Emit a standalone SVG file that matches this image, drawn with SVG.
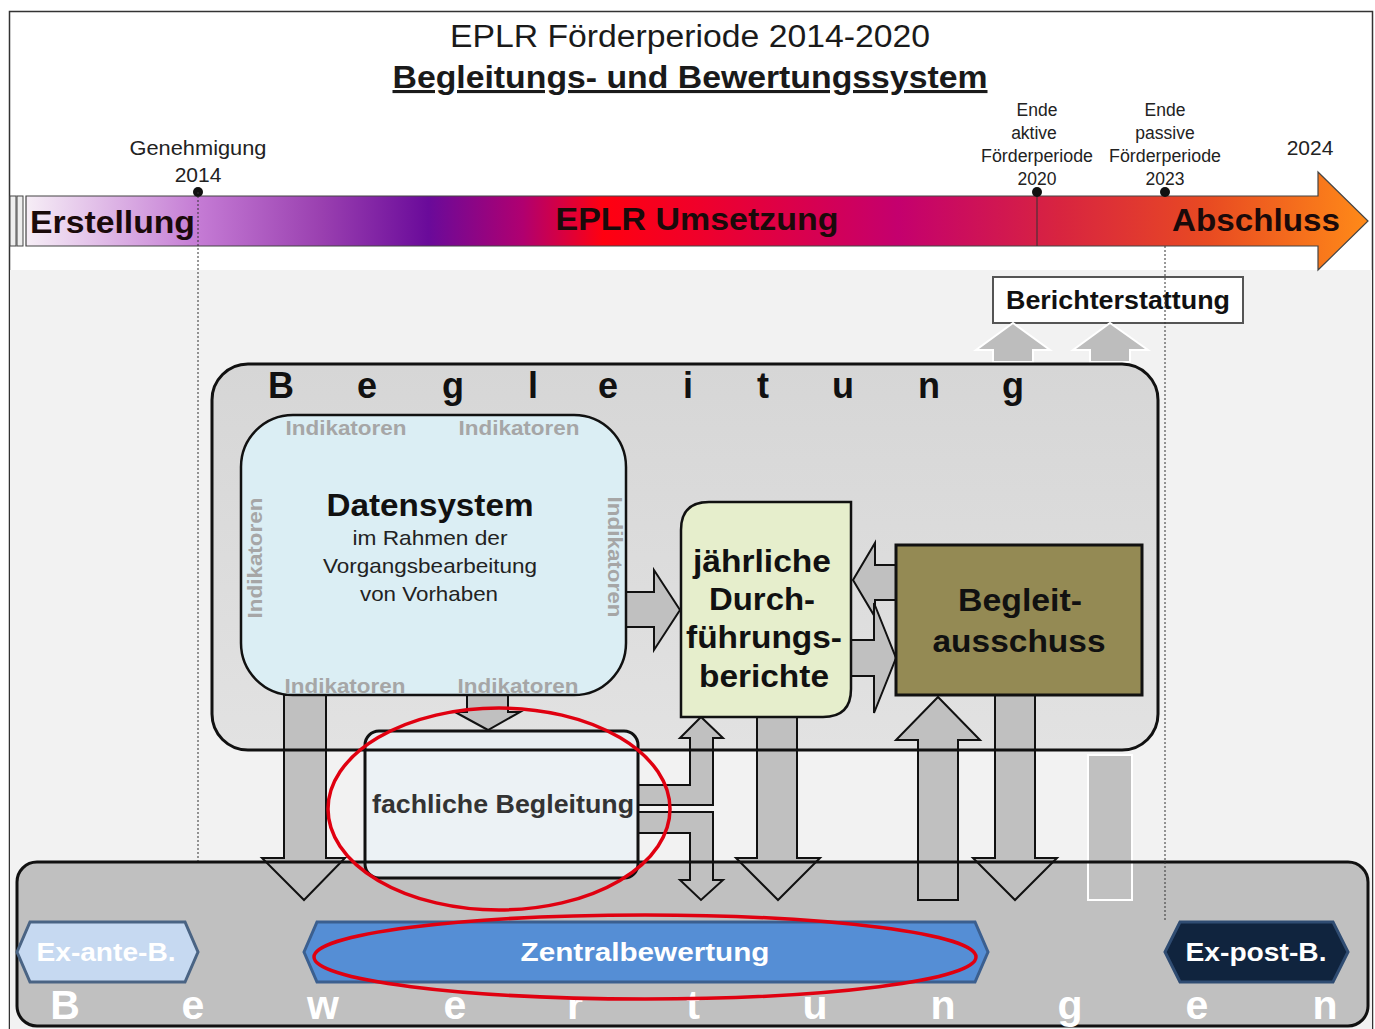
<svg xmlns="http://www.w3.org/2000/svg" width="1375" height="1029" viewBox="0 0 1375 1029">
<defs>
<linearGradient id="tl" gradientUnits="userSpaceOnUse" x1="26" y1="0" x2="1368" y2="0">
<stop offset="0" stop-color="#f6eef6"/>
<stop offset="0.13" stop-color="#c47ad4"/>
<stop offset="0.22" stop-color="#9a40b0"/>
<stop offset="0.30" stop-color="#6a0a9a"/>
<stop offset="0.37" stop-color="#b00070"/>
<stop offset="0.43" stop-color="#ff0010"/>
<stop offset="0.50" stop-color="#f0002a"/>
<stop offset="0.65" stop-color="#c4006e"/>
<stop offset="0.77" stop-color="#d82440"/>
<stop offset="0.88" stop-color="#e84a22"/>
<stop offset="1" stop-color="#ff8a18"/>
</linearGradient>
<linearGradient id="bg" x1="0" y1="0" x2="0" y2="1">
<stop offset="0" stop-color="#d6d6d6"/>
<stop offset="1" stop-color="#e2e2e2"/>
</linearGradient>
</defs>
<style>
text{font-family:"Liberation Sans",Arial,sans-serif}
.ttl{font-size:31px;fill:#1a1a1a}
.lbl{font-size:21px;fill:#222;text-anchor:middle}
.lbs{font-size:17.5px;fill:#222;text-anchor:middle}
.band{font-size:31px;font-weight:bold;fill:#1a0a0a}
.big{font-size:36px;font-weight:bold;fill:#111;text-anchor:middle}
.bw{font-size:41px;font-weight:bold;fill:#fff;text-anchor:middle}
.ind{font-size:21px;font-weight:bold;fill:#a6a6a6;text-anchor:middle}
.node{font-size:31px;font-weight:bold;fill:#111;text-anchor:middle}
.sub{font-size:21px;fill:#222;text-anchor:middle}
.arr{fill:#c0c0c0;stroke:#111;stroke-width:2;stroke-linejoin:miter}
.warr{fill:#bdbdbd;stroke:#fff;stroke-width:2}
.hex{stroke-width:3}
.ht{font-size:26px;font-weight:bold;fill:#fff;text-anchor:middle}
.red{fill:none;stroke:#e00010;stroke-width:3.5}
</style>

<rect x="9.5" y="11.5" width="1363" height="1030" fill="#ffffff" stroke="#333" stroke-width="1.5"/>
<rect x="10" y="270" width="1362" height="760" fill="#f2f2f2"/>

<g id="title">
<text class="ttl" x="690" y="47" text-anchor="middle" textLength="480" lengthAdjust="spacingAndGlyphs">EPLR Förderperiode 2014-2020</text>
<text class="ttl" x="690" y="88" text-anchor="middle" font-weight="bold" text-decoration="underline" textLength="595" lengthAdjust="spacingAndGlyphs">Begleitungs- und Bewertungssystem</text>
</g>

<g id="timeline">
<rect x="10" y="196" width="6" height="50" fill="#eee" stroke="#444" stroke-width="1"/>
<rect x="17" y="196" width="6" height="50" fill="#eee" stroke="#444" stroke-width="1"/>
<polygon points="26,196 1318,196 1318,172 1368,221 1318,270 1318,246 26,246" fill="url(#tl)" stroke="#444" stroke-width="1.2"/>
<line x1="1037" y1="192" x2="1037" y2="246" stroke="#333" stroke-width="1"/>
<text class="band" x="30" y="233" textLength="165" lengthAdjust="spacingAndGlyphs">Erstellung</text>
<text class="band" x="697" y="230" text-anchor="middle" font-size="30" textLength="283" lengthAdjust="spacingAndGlyphs">EPLR Umsetzung</text>
<text class="band" x="1256" y="231" text-anchor="middle" textLength="168" lengthAdjust="spacingAndGlyphs">Abschluss</text>
</g>

<g id="milestones">
<text class="lbl" x="198" y="155" textLength="137" lengthAdjust="spacingAndGlyphs">Genehmigung</text>
<text class="lbl" x="198" y="182">2014</text>
<circle cx="198" cy="192" r="5" fill="#111"/>
<line x1="198" y1="192" x2="198" y2="946" stroke="#333" stroke-width="1" stroke-dasharray="2,2"/>
<text class="lbs" x="1037" y="116">Ende</text>
<text class="lbs" x="1034" y="139">aktive</text>
<text class="lbs" x="1037" y="162" textLength="112" lengthAdjust="spacingAndGlyphs">Förderperiode</text>
<text class="lbs" x="1037" y="185">2020</text>
<circle cx="1037" cy="192" r="5" fill="#111"/>
<text class="lbs" x="1165" y="116">Ende</text>
<text class="lbs" x="1165" y="139">passive</text>
<text class="lbs" x="1165" y="162" textLength="112" lengthAdjust="spacingAndGlyphs">Förderperiode</text>
<text class="lbs" x="1165" y="185">2023</text>
<circle cx="1165" cy="192" r="5" fill="#111"/>
<text class="lbl" x="1310" y="155" font-size="23">2024</text>
</g>

<g id="bewertungen-bg">
<rect x="17" y="862" width="1351" height="164" rx="20" fill="#c0c0c0"/>
</g>

<g id="begleitung-bg">
<rect x="212" y="364" width="946" height="386" rx="36" fill="url(#bg)"/>
</g>

<g id="berichterstattung">
<rect x="993" y="277" width="250" height="46" fill="#fff" stroke="#555" stroke-width="2"/>
<text x="1118" y="309" font-size="26" font-weight="bold" fill="#111" text-anchor="middle" textLength="224" lengthAdjust="spacingAndGlyphs">Berichterstattung</text>
</g>

<g id="connectors">
<polygon class="warr" points="993,362 993,350 976,350 1013,323 1050,350 1033,350 1033,362"/>
<polygon class="warr" points="1090,362 1090,350 1073,350 1110,323 1148,350 1130,350 1130,362"/>
<polygon class="arr" points="626,592 654,592 654,570 680,610 654,650 654,627 626,627"/>
<polygon class="arr" points="896,565 875,565 875,543 853,580 875,617 875,600 896,600"/>
<polygon class="arr" points="851,640 874,640 874,603 896,658 874,713 874,676 851,676"/>
<polygon class="arr" points="467,695 508,695 508,712 520,712 488,730 455,712 467,712"/>
<polygon class="arr" points="284,695 326,695 326,858 345,858 304,900 262,858 284,858"/>
<polygon class="arr" points="757,717 797,717 797,858 820,858 778,900 736,858 757,858"/>
<polygon class="arr" points="918,900 918,740 896,740 938,697 980,740 958,740 958,900"/>
<polygon class="arr" points="995,695 1035,695 1035,858 1057,858 1015,900 973,858 995,858"/>
<polygon class="arr" points="638,785 690,785 690,738 680,738 701,717 723,738 713,738 713,805 638,805"/>
<polygon class="arr" points="638,812 713,812 713,880 723,880 701,900 680,880 690,880 690,833 638,833"/>
<rect x="1088" y="755" width="44" height="145" fill="#c0c0c0" stroke="#fff" stroke-width="2"/>
</g>

<g id="fachliche-begleitung">
<rect x="365" y="731" width="273" height="147" rx="14" fill="#eaf2f6" fill-opacity="0.75" stroke="#111" stroke-width="3"/>
<text x="503" y="813" font-size="25" font-weight="bold" fill="#333" text-anchor="middle" textLength="262" lengthAdjust="spacingAndGlyphs">fachliche Begleitung</text>
</g>

<g id="begleitung">
<rect x="212" y="364" width="946" height="386" rx="36" fill="none" stroke="#111" stroke-width="3"/>
<text class="big" x="281" y="398">B</text>
<text class="big" x="367" y="398">e</text>
<text class="big" x="453" y="398">g</text>
<text class="big" x="533" y="398">l</text>
<text class="big" x="608" y="398">e</text>
<text class="big" x="688" y="398">i</text>
<text class="big" x="763" y="398">t</text>
<text class="big" x="843" y="398">u</text>
<text class="big" x="929" y="398">n</text>
<text class="big" x="1013" y="398">g</text>
</g>

<g id="datensystem">
<rect x="241" y="415" width="385" height="280" rx="52" fill="#dbeef4" stroke="#111" stroke-width="2.5"/>
<text x="430" y="516" font-size="31" font-weight="bold" fill="#111" text-anchor="middle" textLength="207" lengthAdjust="spacingAndGlyphs">Datensystem</text>
<text class="sub" x="430" y="545" textLength="155" lengthAdjust="spacingAndGlyphs">im Rahmen der</text>
<text class="sub" x="430" y="573" textLength="214" lengthAdjust="spacingAndGlyphs">Vorgangsbearbeitung</text>
<text class="sub" x="429" y="601" textLength="138" lengthAdjust="spacingAndGlyphs">von Vorhaben</text>
<text class="ind" x="346" y="435" textLength="121" lengthAdjust="spacingAndGlyphs">Indikatoren</text>
<text class="ind" x="519" y="435" textLength="121" lengthAdjust="spacingAndGlyphs">Indikatoren</text>
<text class="ind" x="345" y="693" textLength="121" lengthAdjust="spacingAndGlyphs">Indikatoren</text>
<text class="ind" x="518" y="693" textLength="121" lengthAdjust="spacingAndGlyphs">Indikatoren</text>
<text class="ind" transform="translate(262,558) rotate(-90)" textLength="121" lengthAdjust="spacingAndGlyphs">Indikatoren</text>
<text class="ind" transform="translate(608,557) rotate(90)" textLength="121" lengthAdjust="spacingAndGlyphs">Indikatoren</text>
</g>

<g id="jaehrliche">
<path d="M681,717 L681,530 Q681,502 709,502 L851,502 L851,689 Q851,717 823,717 Z" fill="#e6eecc" stroke="#111" stroke-width="2.5"/>
<text class="node" x="762" y="572" textLength="138" lengthAdjust="spacingAndGlyphs">jährliche</text>
<text class="node" x="762" y="610" textLength="106" lengthAdjust="spacingAndGlyphs">Durch-</text>
<text class="node" x="764" y="648" textLength="156" lengthAdjust="spacingAndGlyphs">führungs-</text>
<text class="node" x="764" y="687" textLength="130" lengthAdjust="spacingAndGlyphs">berichte</text>
</g>

<g id="begleitausschuss">
<rect x="896" y="545" width="246" height="150" fill="#948a54" stroke="#111" stroke-width="3"/>
<text class="node" x="1020" y="611" fill="#1f3864" textLength="124" lengthAdjust="spacingAndGlyphs">Begleit-</text>
<text class="node" x="1019" y="652" fill="#1f3864" textLength="173" lengthAdjust="spacingAndGlyphs">ausschuss</text>
</g>

<g id="bewertungen">
<rect x="17" y="862" width="1351" height="164" rx="20" fill="none" stroke="#111" stroke-width="3"/>
<line x1="1165" y1="246" x2="1165" y2="922" stroke="#333" stroke-width="1" stroke-dasharray="2,2"/>
<text class="bw" x="65" y="1019">B</text>
<text class="bw" x="193" y="1019">e</text>
<text class="bw" x="323" y="1019">w</text>
<text class="bw" x="455" y="1019">e</text>
<text class="bw" x="575" y="1019">r</text>
<text class="bw" x="693" y="1019">t</text>
<text class="bw" x="815" y="1019">u</text>
<text class="bw" x="943" y="1019">n</text>
<text class="bw" x="1070" y="1019">g</text>
<text class="bw" x="1197" y="1019">e</text>
<text class="bw" x="1325" y="1019">n</text>
</g>

<g id="ex-ante">
<polygon class="hex" points="17,952 30,922 185,922 198,952 185,982 30,982" fill="#c6d9f1" stroke="#4a6484"/>
<text class="ht" x="106" y="961" textLength="139" lengthAdjust="spacingAndGlyphs">Ex-ante-B.</text>
</g>
<g id="zentralbewertung">
<polygon class="hex" points="304,952 317,922 975,922 988,952 975,982 317,982" fill="#558ed5" stroke="#3b5f8f"/>
<text class="ht" x="645" y="961" font-size="27" textLength="249" lengthAdjust="spacingAndGlyphs">Zentralbewertung</text>
</g>
<g id="ex-post">
<polygon class="hex" points="1165,952 1180,922 1333,922 1348,952 1333,982 1180,982" fill="#10243e" stroke="#2f4c72"/>
<text class="ht" x="1256" y="961" textLength="141" lengthAdjust="spacingAndGlyphs">Ex-post-B.</text>
</g>

<g id="highlights">
<ellipse class="red" cx="499" cy="809" rx="171" ry="101"/>
<ellipse class="red" cx="645" cy="957" rx="331" ry="42"/>
</g>
</svg>
